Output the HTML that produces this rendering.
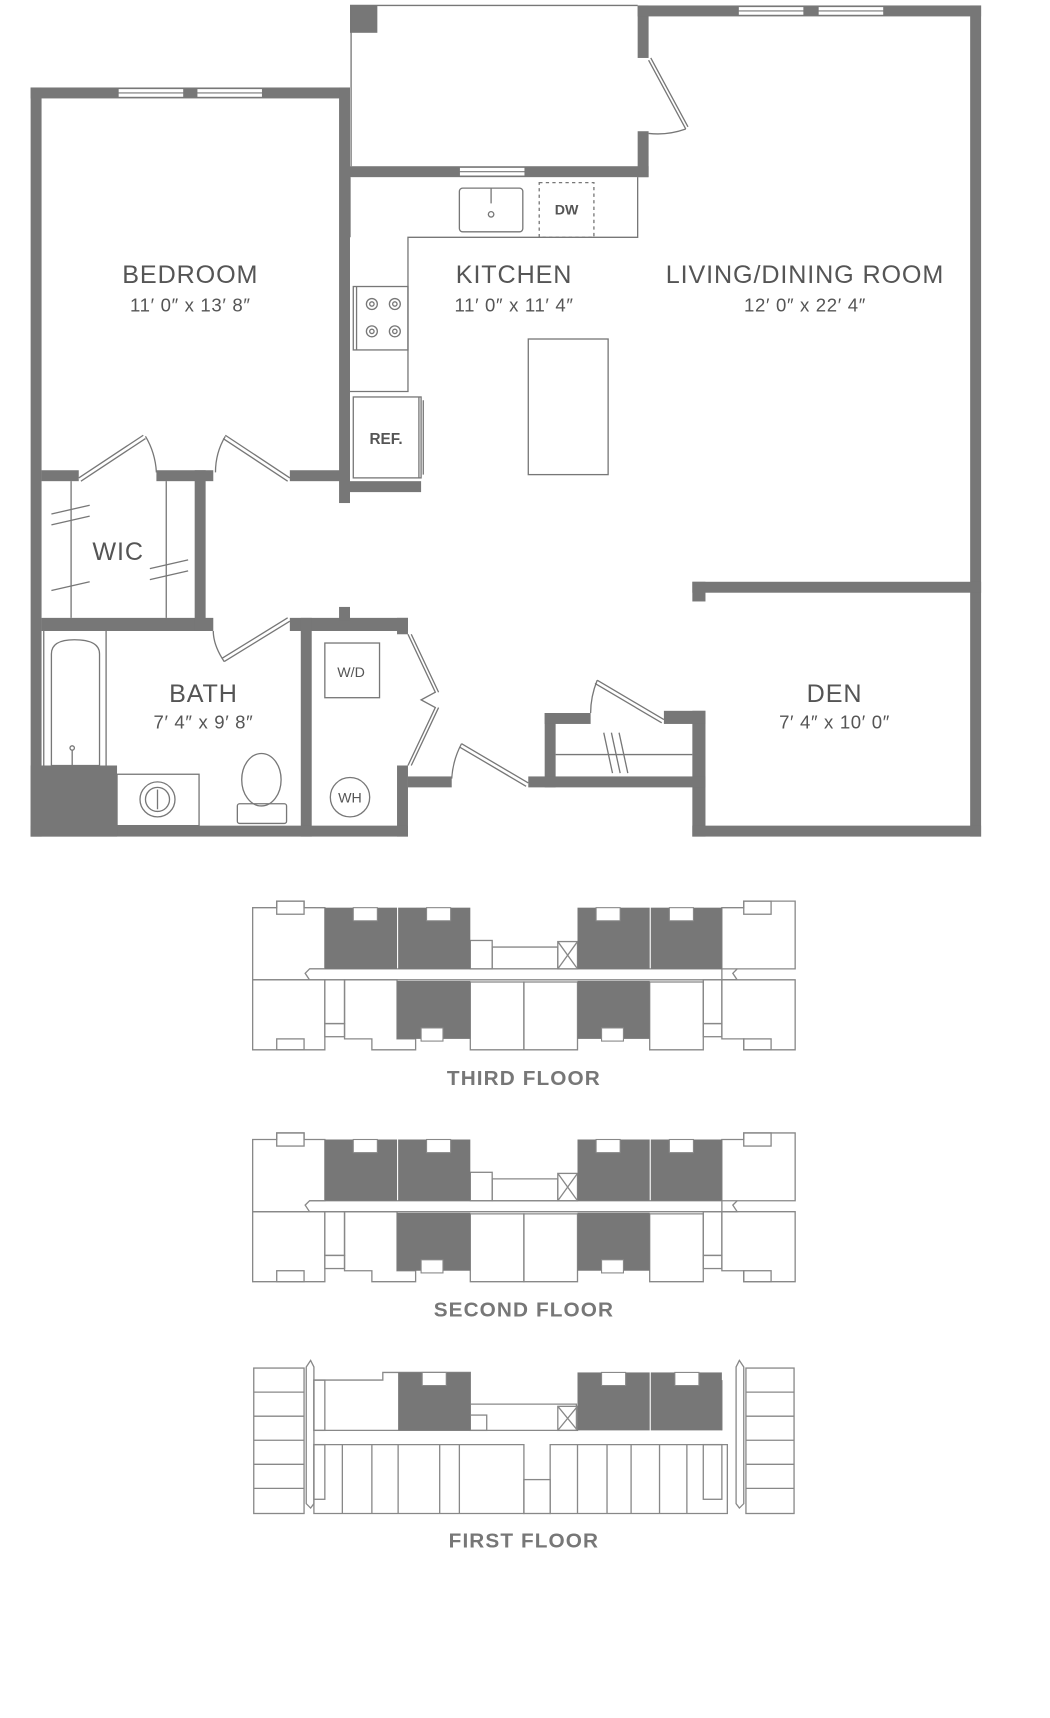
<!DOCTYPE html>
<html><head><meta charset="utf-8"><style>
html,body{margin:0;padding:0;background:#fff;}
svg{display:block;}
text{font-family:"Liberation Sans",sans-serif;fill:#555;}
</style></head><body>
<svg width="1050" height="1718" viewBox="0 0 960 1571" preserveAspectRatio="none" xmlns="http://www.w3.org/2000/svg">
<defs>
<g id="upper">
  <g fill="none" stroke="#888" stroke-width="1.2">
    <path d="M231 830 H253 V824 H278 V830 H297 V886 H283 L279 890 L283 896 H231 Z"/>
    <path d="M231 896 H297 V960 H231 Z"/>
    <rect x="297" y="896" width="18" height="40"/>
    <rect x="297" y="936" width="18" height="12"/>
    <path d="M315 896 H363 V950 H380 V960 H340 V950 H315 Z"/>
    <path d="M430 898 H479 V960 H430 Z"/>
    <path d="M479 898 H528 V960 H479 Z"/>
    <path d="M594 898 H643 V960 H594 Z"/>
    <rect x="643" y="896" width="17" height="40"/>
    <rect x="643" y="936" width="17" height="12"/>
    <path d="M660 830 H680 V824 H727 V886 H674 L670 890 L674 896 H660 Z"/>
    <path d="M660 896 H727 V960 H680 V950 H660 Z"/>
    <rect x="430" y="860" width="20" height="26"/>
    <path d="M450 866 H510 V886 H450 Z"/>
    <rect x="510" y="861" width="18" height="25"/>
    <path d="M510 861 L528 886 M528 861 L510 886"/>
    <path d="M283 886 H674 M283 896 H674"/>
    <rect x="253" y="824" width="25" height="12"/>
    <rect x="253" y="950" width="25" height="10"/>
    <rect x="680" y="824" width="25" height="12"/>
    <rect x="680" y="950" width="25" height="10"/>
  </g>
  <g fill="#777">
    <rect x="297" y="830" width="66" height="56"/>
    <rect x="364" y="830" width="66" height="56"/>
    <rect x="528" y="830" width="66" height="56"/>
    <rect x="595" y="830" width="65" height="56"/>
    <rect x="363" y="897" width="67" height="53"/>
    <rect x="528" y="897" width="66" height="53"/>
  </g>
  <g fill="#fff" stroke="#888" stroke-width="1">
    <rect x="323" y="830" width="22" height="12"/>
    <rect x="390" y="830" width="22" height="12"/>
    <rect x="545" y="830" width="22" height="12"/>
    <rect x="612" y="830" width="22" height="12"/>
    <rect x="385" y="940" width="20" height="12"/>
    <rect x="550" y="940" width="20" height="12"/>
  </g>
</g>
</defs>

<!-- MAIN PLAN -->
<g fill="#777">
  <rect x="28" y="80" width="292" height="10"/>
  <rect x="28" y="80" width="10" height="685"/>
  <rect x="310" y="80" width="10" height="380"/>
  <rect x="320" y="5" width="25" height="25"/>
  <rect x="320" y="152" width="273" height="10"/>
  <rect x="583" y="5" width="10" height="48"/>
  <rect x="583" y="120" width="10" height="42"/>
  <rect x="583" y="5" width="314" height="10"/>
  <rect x="887" y="5" width="10" height="760"/>
  <rect x="633" y="532" width="264" height="10"/>
  <rect x="633" y="532" width="12" height="18"/>
  <rect x="633" y="650" width="12" height="115"/>
  <rect x="633" y="755" width="264" height="10"/>
  <rect x="607" y="650" width="38" height="12"/>
  <rect x="498" y="652" width="10" height="68"/>
  <rect x="498" y="652" width="42" height="10"/>
  <rect x="483" y="710" width="162" height="10"/>
  <rect x="373" y="710" width="40" height="10"/>
  <rect x="363" y="565" width="10" height="15"/>
  <rect x="363" y="700" width="10" height="65"/>
  <rect x="265" y="565" width="108" height="12"/>
  <rect x="310" y="555" width="10" height="12"/>
  <rect x="275" y="565" width="10" height="200"/>
  <rect x="28" y="755" width="345" height="10"/>
  <rect x="38" y="565" width="157" height="12"/>
  <rect x="178" y="430" width="10" height="147"/>
  <rect x="38" y="430" width="34" height="10"/>
  <rect x="143" y="430" width="52" height="10"/>
  <rect x="265" y="430" width="55" height="10"/>
  <rect x="28" y="700" width="79" height="65"/>
  <rect x="320" y="440" width="65" height="10"/>
</g>

<g fill="#fff" stroke="#777" stroke-width="1">
  <rect x="108" y="81" width="60" height="8"/>
  <rect x="180" y="81" width="60" height="8"/>
  <rect x="420" y="153" width="60" height="8"/>
  <rect x="675" y="6" width="60" height="8"/>
  <rect x="748" y="6" width="60" height="8"/>
</g>
<g stroke="#777" stroke-width="1">
  <line x1="108" y1="85" x2="168" y2="85"/><line x1="180" y1="85" x2="240" y2="85"/>
  <line x1="420" y1="157" x2="480" y2="157"/><line x1="675" y1="10" x2="735" y2="10"/><line x1="748" y1="10" x2="808" y2="10"/>
</g>

<g fill="none" stroke="#777" stroke-width="1.2">
  <line x1="320" y1="5" x2="583" y2="5"/>
  <line x1="321" y1="5" x2="321" y2="152"/>
  <path d="M593 55 L627 118 M595 53 L629 116"/>
  <path d="M627 118 Q610 124 593 122"/>
  <path d="M320 162 V217 M583 162 V217 H373 V358 H320"/>
  <rect x="420" y="172" width="58" height="40" rx="3"/>
  <line x1="449" y1="172" x2="449" y2="186"/>
  <circle cx="449" cy="196" r="2.5"/>
  <rect x="493" y="167" width="50" height="50" stroke-dasharray="3,3"/>
  <rect x="323" y="262" width="50" height="58"/>
  <line x1="326" y1="262" x2="326" y2="320"/>
  <rect x="323" y="363" width="62" height="74"/>
  <line x1="383" y1="363" x2="383" y2="437"/>
  <line x1="387" y1="366" x2="387" y2="434"/>
  <rect x="483" y="310" width="73" height="124"/>
  <path d="M72 437 L131 398 M74 440 L133 401"/>
  <path d="M133 399 Q142 414 143 432"/>
  <path d="M265 437 L206 398 M263 440 L204 401"/>
  <path d="M206 399 Q197 414 197 432"/>
  <line x1="65" y1="440" x2="65" y2="565"/>
  <line x1="152" y1="440" x2="152" y2="565"/>
  <path d="M47 470 L82 462 M47 480 L82 472 M47 540 L82 532 M137 520 L172 512 M137 530 L172 522"/>
  <path d="M205 605 L265 568 M203 602 L263 565"/>
  <path d="M205 605 Q195 590 195 577"/>
  <line x1="40" y1="577" x2="40" y2="700"/>
  <line x1="97" y1="577" x2="97" y2="700"/>
  <path d="M47 700 V598 Q47 585 68 585 Q91 585 91 598 V700 Z"/>
  <circle cx="66" cy="684" r="2"/><line x1="66" y1="686" x2="66" y2="700"/>
  <rect x="107" y="708" width="75" height="47"/>
  <circle cx="144" cy="731" r="16"/><circle cx="144" cy="731" r="11"/>
  <line x1="144" y1="722" x2="144" y2="740"/>
  <rect x="217" y="735" width="45" height="18" rx="2"/>
  <ellipse cx="239" cy="713" rx="18" ry="24"/>
  <rect x="297" y="588" width="50" height="50"/>
  <circle cx="320" cy="729" r="18"/>
  <path d="M373 580 L398 633 L385 640 L398 647 L373 700"/>
  <path d="M376 580 L401 633 M376 700 L401 647"/>
  <path d="M483 716 L422 680 M481 719 L420 683"/>
  <path d="M422 680 Q414 695 413 712"/>
  <path d="M607 658 L546 622 M605 661 L544 625"/>
  <path d="M546 622 Q540 637 540 652"/>
  <line x1="508" y1="690" x2="633" y2="690"/>
  <path d="M552 670 L560 707 M559 670 L567 707 M566 670 L574 707"/>
</g>
<g fill="none" stroke="#777" stroke-width="1.2">
  <circle cx="340" cy="278" r="5"/><circle cx="361" cy="278" r="5"/>
  <circle cx="340" cy="303" r="5"/><circle cx="361" cy="303" r="5"/>
  <circle cx="340" cy="278" r="2"/><circle cx="361" cy="278" r="2"/>
  <circle cx="340" cy="303" r="2"/><circle cx="361" cy="303" r="2"/>
</g>

<g text-anchor="middle">
  <g font-size="23" style="letter-spacing:0.8px">
  <text x="174" y="259">BEDROOM</text>
  <text x="470" y="259">KITCHEN</text>
  <text x="736" y="259">LIVING/DINING ROOM</text>
  <text x="108" y="512">WIC</text>
  <text x="186" y="642">BATH</text>
  <text x="763" y="642">DEN</text>
  </g>
  <g font-size="17" style="letter-spacing:0.6px">
  <text x="174" y="285">11′ 0″ x 13′ 8″</text>
  <text x="470" y="285">11′ 0″ x 11′ 4″</text>
  <text x="736" y="285">12′ 0″ x 22′ 4″</text>
  <text x="186" y="666">7′ 4″ x 9′ 8″</text>
  <text x="763" y="666">7′ 4″ x 10′ 0″</text>
  </g>
  <text x="518" y="196" font-size="13" font-weight="bold">DW</text>
  <text x="353" y="406" font-size="14" font-weight="bold">REF.</text>
  <text x="321" y="619" font-size="13">W/D</text>
  <text x="320" y="734" font-size="13">WH</text>
</g>

<use href="#upper"/>
<use href="#upper" transform="translate(0,212)"/>

<g fill="none" stroke="#888" stroke-width="1.2">
  <rect x="232" y="1251" width="46" height="133"/>
  <path d="M232 1273 H278 M232 1295 H278 M232 1317 H278 M232 1339 H278 M232 1361 H278"/>
  <rect x="682" y="1251" width="44" height="133"/>
  <path d="M682 1273 H726 M682 1295 H726 M682 1317 H726 M682 1339 H726 M682 1361 H726"/>
  <path d="M280 1250 L284 1244 L287 1250 V1375 L284 1379 L280 1375 Z"/>
  <path d="M673 1250 L676 1244 L680 1250 V1375 L676 1379 L673 1375 Z"/>
  <path d="M287 1262 H350 V1255 H430 V1308 H287 Z"/>
  <rect x="287" y="1262" width="10" height="46"/>
  <path d="M430 1284 H527 V1308 H430 Z"/>
  <rect x="430" y="1294" width="15" height="14"/>
  <rect x="510" y="1286" width="18" height="22"/>
  <path d="M510 1286 L528 1308 M528 1286 L510 1308"/>
  <path d="M287 1321 H479 V1384 H287 Z"/>
  <path d="M313 1321 V1384 M340 1321 V1384 M364 1321 V1384 M402 1321 V1384 M420 1321 V1384"/>
  <path d="M503 1321 H665 V1384 H503 Z"/>
  <path d="M528 1321 V1384 M555 1321 V1384 M577 1321 V1384 M603 1321 V1384 M628 1321 V1384"/>
  <rect x="479" y="1353" width="24" height="31"/>
  <rect x="287" y="1321" width="10" height="50"/>
  <rect x="643" y="1321" width="17" height="50"/>
  <path d="M660 1262 V1308"/>
</g>
<g fill="#777">
  <rect x="364" y="1255" width="66" height="53"/>
  <rect x="528" y="1255" width="66" height="53"/>
  <rect x="595" y="1255" width="65" height="53"/>
</g>
<g fill="#fff" stroke="#888" stroke-width="1">
  <rect x="386" y="1255" width="22" height="12"/>
  <rect x="550" y="1255" width="22" height="12"/>
  <rect x="617" y="1255" width="22" height="12"/>
</g>

<g text-anchor="middle" font-weight="bold" style="letter-spacing:1px">
  <text x="479" y="992" font-size="19" style="fill:#777">THIRD FLOOR</text>
  <text x="479" y="1204" font-size="19" style="fill:#777">SECOND FLOOR</text>
  <text x="479" y="1415" font-size="19" style="fill:#777">FIRST FLOOR</text>
</g>
</svg>
</body></html>
